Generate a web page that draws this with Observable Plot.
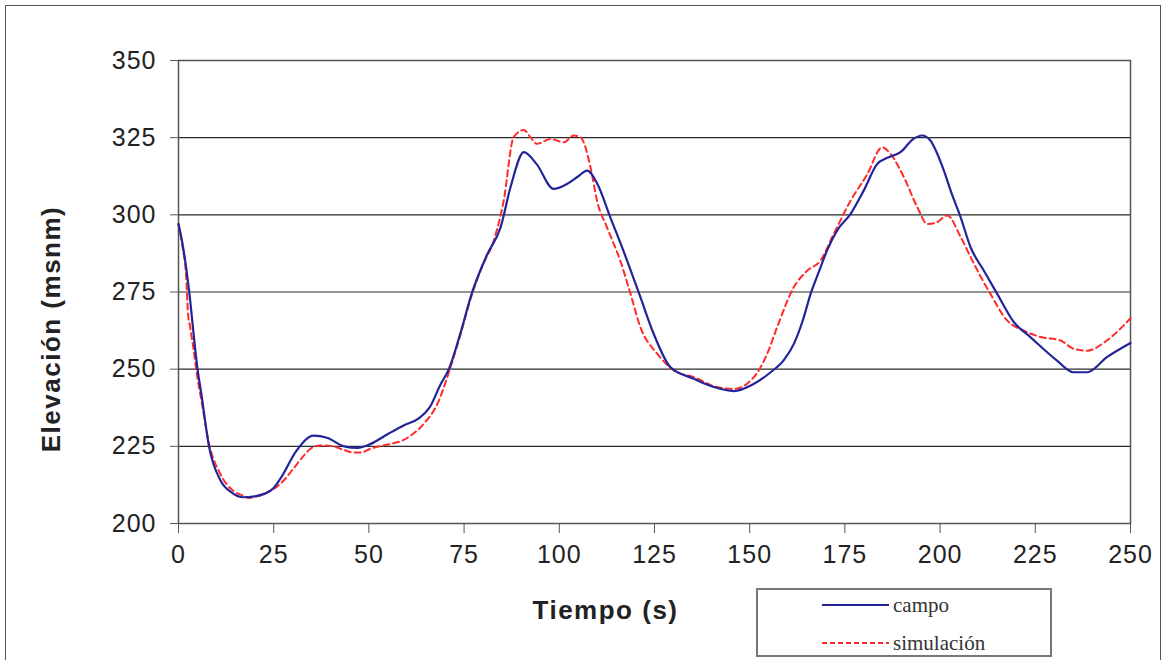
<!DOCTYPE html>
<html>
<head>
<meta charset="utf-8">
<script src="https://cdn.jsdelivr.net/npm/d3@7"></script>
<script src="https://cdn.jsdelivr.net/npm/@observablehq/plot@0.6"></script>
<style>
  html, body { margin: 0; padding: 0; background: #fff; }
  #wrap { position: relative; width: 1167px; height: 660px; overflow: hidden; background: #fff; }
  #outer { position: absolute; left: 5px; top: 5px; width: 1156px; height: 720px; border: 1.5px solid #555; box-sizing: border-box; pointer-events: none; }
  #chart { position: absolute; left: 0; top: 0; }
  #legend { position: absolute; left: 756px; top: 588px; width: 296px; height: 69px; border: 2px solid #777; box-sizing: border-box; background: #fff; }
</style>
</head>
<body>
<div id="wrap">
  <div id="chart"></div>
  <div id="outer"></div>
  <div id="legend"></div>
</div>
<script>
// ---- Data ----
const seriesNames = ["campo", "simulación"];
const xTicks = [0, 25, 50, 75, 100, 125, 150, 175, 200, 225, 250];
const yTicks = [200, 225, 250, 275, 300, 325, 350];

const campoT = [
  0, 1, 2, 3, 4, 5, 6, 8, 11, 14,
  17, 20, 22.5, 25, 27, 31, 35.5, 39, 43.5, 47,
  50.5, 55, 59, 63, 66, 68.8, 71, 74, 77, 81,
  84.6, 87.2, 90.7, 94, 98.5, 102, 105, 107.3, 110, 113.4,
  117.8, 121.3, 124.8, 129.2, 135.3, 140.6, 145.8, 151, 155.5, 159,
  161.6, 164, 166, 168, 170.3, 173, 176.5, 180, 183.5, 186,
  189.6, 193, 195.3, 197.5, 199, 201, 203, 205.4, 208, 211.5,
  215, 219.4, 223.7, 230.7, 235, 238.6, 243.8, 250
];
const campoV = [
  297, 291, 283, 273, 261, 250, 242, 225, 214, 210,
  208.5, 208.8, 209.6, 211.5, 215, 223.6, 228.5, 227.8, 225, 224.5,
  225.8, 229, 231.7, 234, 237.7, 245, 250, 261.5, 274.5, 287,
  296, 309, 320.3, 316.5, 308.4, 310, 312.5, 314.3, 310, 299.2,
  285.2, 273.3, 261.4, 250.6, 246.9, 244.2, 242.9, 245.2, 249, 253,
  258.2, 266, 274.4, 281, 288.4, 295, 300.3, 308, 316.5, 318.4,
  320.3, 324.6, 325.7, 324, 320.5, 314.3, 307, 299.2, 289.5, 281.9,
  274.4, 265.2, 260.4, 252.8, 249, 249, 253.9, 258.5
];

const simT = [
  0, 1, 2, 2.5, 3, 4, 5, 6, 8, 11,
  14, 17, 18.6, 21, 24, 26.8, 30, 32.9, 35, 37.3,
  40.6, 43, 46, 48, 50.4, 55.7, 59, 61, 64.4, 68,
  71, 74, 77, 80, 82.8, 85.4, 88, 90.7, 92.5, 94.1,
  97.7, 101.2, 103.8, 105.6, 108.2, 109.9, 112.5, 116, 118.7, 121.3,
  125.7, 130.1, 135.3, 141.4, 145.8, 151.1, 154.6, 157.2, 161.6, 165.1,
  168.6, 172.1, 176.5, 180.9, 184.8, 187, 190.5, 194, 196.7, 199,
  201.9, 205.4, 208.9, 213.2, 217.6, 222, 226.4, 231.6, 235.1, 238.6,
  243.8, 250
];
const simV = [
  297, 290, 280, 268, 264, 256, 247, 240, 226, 216,
  211, 209, 208.3, 209, 210.5, 212.9, 217.5, 222, 224.5, 225.3,
  225, 224, 223, 223, 224.2, 225.8, 227, 228.5, 232.3, 238.8,
  249, 261, 274, 284, 291.7, 304.6, 325.1, 327.5, 325, 323,
  324.6, 323.5, 325.7, 325.1, 315.4, 304.6, 296, 285.2, 274.4, 263.6,
  255, 249.6, 247.4, 244.2, 243.6, 247.4, 255, 263.6, 276.6, 281.9,
  285.2, 293.9, 304.6, 313.2, 321.9, 319.7, 312.2, 302.5, 297, 297.5,
  299.8, 292.8, 284.1, 274.4, 265.8, 262.5, 260.4, 259.3, 256.6, 256,
  259.3, 266.5
];

const campo = campoT.map((t, i) => ({t, v: campoV[i]}));
const sim = simT.map((t, i) => ({t, v: simV[i]}));

const blue = "#23239a";
const red = "#ff2a2a";
const sans = "'Liberation Sans', Arial, sans-serif";

const chart = Plot.plot({
  width: 1167,
  height: 660,
  marginLeft: 178,
  marginRight: 37,
  marginTop: 60,
  marginBottom: 137,
  style: { fontFamily: sans, background: "transparent", color: "#222" },
  x: { domain: [0, 250] },
  y: { domain: [200, 350] },
  marks: [
    Plot.gridY(yTicks.slice(1, -1), { stroke: "#2a2a2a", strokeOpacity: 1, strokeWidth: 1.2 }),
    Plot.frame({ stroke: "#555", strokeWidth: 1.5 }),
    Plot.axisY(yTicks, { tickSize: 8, tickPadding: 14, fontSize: 25, label: null, stroke: "#555" }),
    Plot.axisX(xTicks, { tickSize: 10, tickPadding: 12, fontSize: 25, label: null, stroke: "#555" }),
    Plot.line(sim, { x: "t", y: "v", stroke: red, strokeWidth: 2, strokeDasharray: "6,4", curve: "monotone-x" }),
    Plot.line(campo, { x: "t", y: "v", stroke: blue, strokeWidth: 2.2, curve: "monotone-x" }),
    Plot.text(["Elevación (msnm)"], { text: d => d, frameAnchor: "left", textAnchor: "middle", lineAnchor: "middle", dx: -127, dy: 37, rotate: -90, fontSize: 26, fontWeight: "bold", fill: "#222" }),
    Plot.text(["Tiempo (s)"], { text: d => d, frameAnchor: "bottom", textAnchor: "middle", lineAnchor: "middle", dx: -49, dy: 87, fontSize: 26, fontWeight: "bold", fill: "#222" })
  ]
});
document.getElementById("chart").appendChild(chart);
d3.select(chart).selectAll("g[aria-label='y-axis tick label'] text, g[aria-label='x-axis tick label'] text")
  .attr("letter-spacing", "1px");
d3.select(chart).selectAll("g[aria-label='text'] text").attr("letter-spacing", "1.5px");

// ---- Legend ----
const leg = d3.select("#legend").append("svg").attr("width", 292).attr("height", 65)
  .style("position", "absolute").style("left", "0px").style("top", "0px");
const lx0 = 822 - 758, lx1 = 889 - 758, tx = 893 - 758;
const rows = [
  { name: seriesNames[0], y: 605 - 590, color: blue, dash: null },
  { name: seriesNames[1], y: 643 - 590, color: red, dash: "5,3" }
];
rows.forEach(r => {
  leg.append("line").attr("x1", lx0).attr("x2", lx1).attr("y1", r.y).attr("y2", r.y)
    .attr("stroke", r.color).attr("stroke-width", 2).attr("stroke-dasharray", r.dash);
  leg.append("text").attr("x", tx).attr("y", r.y + 7).text(r.name)
    .attr("font-family", "'Liberation Serif', 'Times New Roman', serif").attr("font-size", 21).attr("fill", "#333");
});
</script>
</body>
</html>
